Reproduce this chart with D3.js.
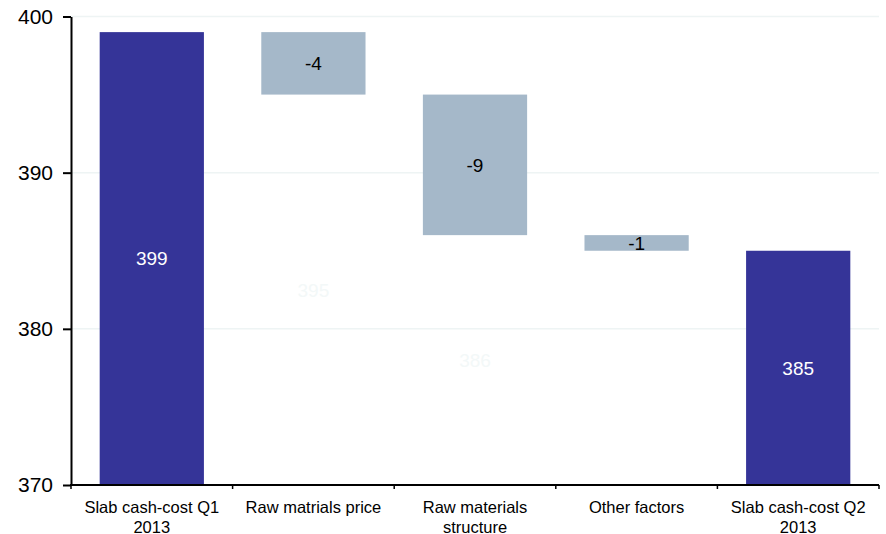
<!DOCTYPE html>
<html>
<head>
<meta charset="utf-8">
<script src="https://cdn.jsdelivr.net/npm/d3@7"></script>
<style>
  html, body { margin: 0; padding: 0; background: #fff; }
  svg { display: block; font-family: "Liberation Sans", Arial, sans-serif; }
</style>
</head>
<body>
<svg id="chart" width="886" height="534"></svg>
<script>
// Waterfall: slab cash-cost bridge from Q1 2013 to Q2 2013
const categories = [
  ["Slab cash-cost Q1", "2013"],
  ["Raw matrials price"],
  ["Raw materials", "structure"],
  ["Other factors"],
  ["Slab cash-cost Q2", "2013"]
];
const kinds = ["total", "delta", "delta", "delta", "total"];
const values = [399, -4, -9, -1, 385];
const yTicks = [370, 380, 390, 400];

// Running totals give each step's start and end
const steps = [];
let running = 0;
values.forEach((v, i) => {
  if (kinds[i] === "total") {
    steps.push({ i, kind: "total", lo: 370, hi: v, value: v, base: null });
    running = v;
  } else {
    const start = running, end = running + v;
    steps.push({ i, kind: "delta", lo: Math.min(start, end), hi: Math.max(start, end), value: v, base: Math.min(start, end) });
    running = end;
  }
});

const svg = d3.select("#chart");
const margin = { left: 71, right: 7, top: 16.5, bottom: 49 };
const W = 886, H = 534;

const x = d3.scaleBand()
  .domain(d3.range(categories.length))
  .range([margin.left, W - margin.right])
  .paddingInner(0.355)
  .paddingOuter(0.1775);

const y = d3.scaleLinear()
  .domain([370, 400])
  .range([H - margin.bottom, margin.top]);

// Faint horizontal gridlines
svg.append("g")
  .selectAll("line")
  .data(yTicks.filter(t => t > 370))
  .join("line")
  .attr("x1", margin.left).attr("x2", W - margin.right)
  .attr("y1", d => y(d)).attr("y2", d => y(d))
  .attr("stroke", "#eef4f4").attr("stroke-width", 1.5);

// Bars
svg.append("g")
  .selectAll("rect")
  .data(steps)
  .join("rect")
  .attr("x", d => x(d.i))
  .attr("width", x.bandwidth())
  .attr("y", d => y(d.hi))
  .attr("height", d => y(d.lo) - y(d.hi))
  .attr("fill", d => d.kind === "total" ? "#353498" : "#a5b8c9");

// Labels of the hidden base segments (nearly white)
svg.append("g")
  .selectAll("text")
  .data(steps.filter(d => d.kind === "delta" && d.value <= -4))
  .join("text")
  .attr("x", d => x(d.i) + x.bandwidth() / 2)
  .attr("y", d => y((370 + d.base) / 2))
  .attr("dy", "0.36em")
  .attr("text-anchor", "middle")
  .attr("font-size", 19)
  .attr("fill", "#f3f8f8")
  .text(d => d.base);

// Value labels
svg.append("g")
  .selectAll("text")
  .data(steps)
  .join("text")
  .attr("x", d => x(d.i) + x.bandwidth() / 2)
  .attr("y", d => y((d.lo + d.hi) / 2))
  .attr("dy", "0.36em")
  .attr("text-anchor", "middle")
  .attr("font-size", 19)
  .attr("fill", d => d.kind === "total" ? "#ffffff" : "#000000")
  .text(d => d.value);

// Y axis
const yAxis = svg.append("g")
  .attr("transform", `translate(${margin.left},0)`)
  .call(d3.axisLeft(y).tickValues(yTicks).tickSize(8).tickPadding(10).tickSizeOuter(0));
yAxis.select(".domain").attr("stroke", "#000").attr("stroke-width", 2);
yAxis.selectAll(".tick line").attr("stroke", "#000").attr("stroke-width", 2);
yAxis.selectAll(".tick text")
  .attr("font-size", 21)
  .attr("font-family", "Liberation Sans, Arial, sans-serif")
  .attr("fill", "#000");

// X axis with boundary ticks between categories
const xg = svg.append("g").attr("transform", `translate(0,${y(370)})`);
xg.append("line")
  .attr("x1", margin.left - 1).attr("x2", W - margin.right)
  .attr("stroke", "#000").attr("stroke-width", 2);
const step = x.step();
const boundaries = d3.range(categories.length + 1).map(k => margin.left + k * step);
xg.selectAll("line.b")
  .data(boundaries)
  .join("line")
  .attr("class", "b")
  .attr("x1", d => d).attr("x2", d => d)
  .attr("y1", 0).attr("y2", 4)
  .attr("stroke", "#000").attr("stroke-width", 1.5);

const labels = xg.selectAll("text.cat")
  .data(categories)
  .join("text")
  .attr("class", "cat")
  .attr("text-anchor", "middle")
  .attr("font-size", 16.5)
  .attr("fill", "#000")
  .attr("x", (d, i) => x(i) + x.bandwidth() / 2);
labels.selectAll("tspan")
  .data(d => d)
  .join("tspan")
  .attr("x", function () { return d3.select(this.parentNode).attr("x"); })
  .attr("y", (d, k) => 28 + k * 19.5)
  .text(d => d);
</script>
</body>
</html>
